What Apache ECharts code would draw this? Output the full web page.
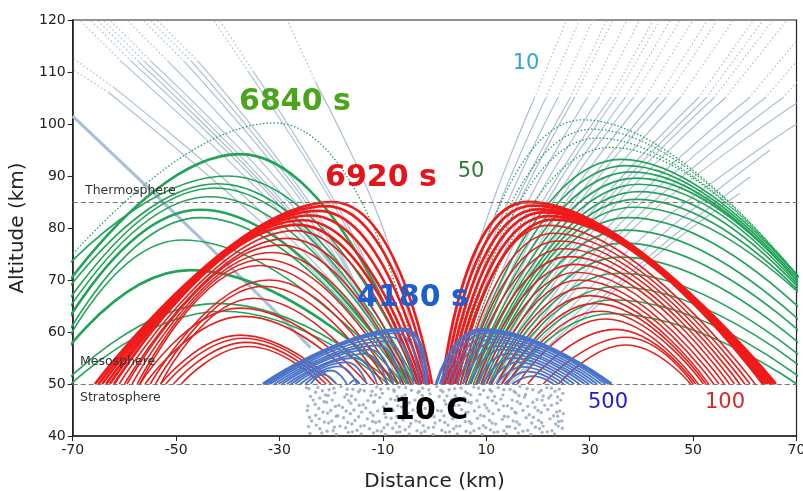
<!DOCTYPE html>
<html><head><meta charset="utf-8">
<script src="https://cdn.jsdelivr.net/npm/echarts@6/dist/echarts.min.js"></script>
<style>html,body{margin:0;padding:0;background:#fff}#c{width:803px;height:491px}</style>
</head><body><div id="c"></div>
<script>
// ---------- data (km) ----------
const xTicks = [-70,-50,-30,-10,10,30,50,70];
const layerLevels = [85, 50];

// ray paths: flat lists of x,y pairs. gray: base, mid, dotted-start, end
const grayLeft = [
 [-3,50, -27,80, -60.6,112, -68.6,120],
 [-3.5,50, -26,80, -58.6,112, -66.6,120],
 [-4,50, -25.5,80, -57.3,112, -65.3,120],
 [-4.5,50, -25,80, -56.1,112, -64.1,120],
 [-5,50, -24,80, -54.8,112, -62.8,120],
 [-5.5,50, -23,80, -51.5,112, -59.5,120],
 [-6,50, -22,80, -48.4,112, -56.4,120],
 [-6.5,50, -21.5,80, -47,112, -55,120],
 [-7,50, -21,80, -45.7,112, -53.7,120],
 [-3,50, -17,80, -36,110, -42.8,120],
 [-3.5,50, -16.5,80, -35,110, -41.6,120],
 [-2,50, -10,80, -23,108, -28.5,120],
 [-2.5,50, -28,78, -62,107, -70,112.7],
 [-3,50, -29,77, -63,106, -70,110.5]
];
const grayLeftThick = [[-24,57, -39,72, -70,101.5]];
const grayRight = [
 [1.5,50, 9.5,80, 19.3,105, 25.5,120],
 [2,50, 10.8,80, 21.5,105, 28,120],
 [2.5,50, 12.1,80, 23.8,105, 30.6,120],
 [3,50, 13.4,80, 26.2,105, 33.3,120],
 [3.5,50, 14.1,80, 27,105, 34.5,120],
 [4,50, 15.5,80, 29.5,105, 37.2,120],
 [4.5,50, 16.8,80, 31.8,105, 39.7,120],
 [5,50, 18,80, 34,105, 42.3,120],
 [5.5,50, 18.8,80, 35,105, 43.6,120],
 [6,50, 19.9,80, 36.8,105, 45.6,120],
 [6.5,50, 20.9,80, 38.4,105, 47.5,120],
 [7,50, 22.1,80, 40.6,105, 50,120],
 [7.5,50, 23.5,80, 43.1,105, 52.8,120],
 [8,50, 24.5,80, 44.7,105, 54.7,120],
 [8.5,50, 26.1,80, 47.5,105, 57.8,120],
 [9,50, 27.9,80, 51,105, 61.7,120],
 [9.5,50, 28.9,80, 52.5,105, 63.6,120],
 [10,50, 29.8,80, 54,105, 65.5,120],
 [10.5,50, 31.1,80, 56.2,105, 68.2,120],
 [11,50, 33.4,80, 60.8,105, 70,116],
 [11.5,50, 35.1,80, 63.9,105, 70,112],
 [12,50, 36.9,80, 67.3,105, 70,108],
 [12.5,50, 38.5,80, 70,104],
 [13,50, 40,78, 70,100],
 [13.5,50, 42,77, 64.9,95],
 [14,50, 42,75, 61,89.8],
 [14.5,50, 42,74, 59,86.7]
];
// arcs: start, apex, landing
const greenLeftDotted = [[-2.5,50, -31,100.2, -90,50]];
const greenLeft = [
 [-3,50, -40,90, -90,50],
 [-3,50, -37.6,94.2, -84,50],
 [-3.5,50, -41.9,88.5, -83.2,50],
 [-4,50, -42.5,87.7, -80.7,50],
 [-4.5,50, -43.5,86, -79.3,50],
 [-5,50, -45.3,83.5, -77.8,50],
 [-5.5,50, -45.3,82, -76.2,50],
 [-6,50, -48.8,77.7, -75.3,50],
 [-7,50, -47.3,71.9, -76,50],
 [-8,50, -42,65.5, -71.8,50],
 [-9,50, -41,64, -70.3,50]
];
const greenRightDotted = [
 [3,50, 28.7,100.8, 86,50],
 [3.5,50, 30.5,99, 86,50],
 [4,50, 31.5,97.3, 86.5,50],
 [4.5,50, 34,95.5, 86,50]
];
const greenRight = [
 [5,50, 36,93.2, 86,50],
 [5.5,50, 37,92, 85.5,50],
 [6,50, 38,90.8, 85,50],
 [6.5,50, 39,89.6, 85.3,50],
 [7,50, 39.5,88.4, 85,50],
 [7.5,50, 39.5,87, 85.4,50],
 [8,50, 39,85.5, 86,50],
 [8.5,50, 38.5,84, 87,50],
 [9,50, 37.5,82, 84.5,50],
 [9.5,50, 37,79.6, 82.5,50],
 [10,50, 36.5,77.1, 81,50],
 [10.5,50, 36,74.4, 79,50],
 [11,50, 35.5,71.3, 77,50],
 [12,50, 35,68.7, 75,50],
 [13,50, 34.5,66.2, 72.3,50],
 [14,50, 34,63.5, 70,50]
];
const redLeftBand = [
 [-0.5,50, -19.8,85, -65.7,50],
 [-1,50, -21,84.2, -65,50],
 [-1.5,50, -22.5,83.3, -64.3,50],
 [-2,50, -24,82.4, -63.5,50],
 [-2.5,50, -25.5,81.5, -62.8,50],
 [-3,50, -26.5,80.6, -62,50]
];
const redLeft = [
 [-3.5,50, -27,79.5, -61,50],
 [-4.5,50, -28.5,78, -60,50],
 [-5,50, -30,76.7, -59.5,50],
 [-6,50, -31.5,75.3, -58.5,50],
 [-7,50, -33,74, -57.5,50],
 [-8,50, -34,72.8, -57,50],
 [-9,50, -32,70, -55,50],
 [-10,50, -33,68.8, -54,50],
 [-11.5,50, -35,66.5, -53,50],
 [-13,50, -37.6,64.6, -57,50],
 [-14.5,50, -37,63, -56,50],
 [-19,50, -37.6,59.4, -53,50],
 [-20,50, -37,58.8, -52,50],
 [-21,50, -36.5,58, -50.5,50],
 [-22,50, -36,57.2, -49,50]
];
const redRightBand = [
 [1.5,50, 18,85, 66,50],
 [2,50, 19,84.3, 65.5,50],
 [2.5,50, 20,83.6, 65,50],
 [3,50, 21,83, 64.5,50],
 [3.5,50, 22,82.3, 64,50],
 [4,50, 23,81.6, 63.5,50]
];
const redRight = [
 [4.5,50, 22,80.5, 62,50],
 [5,50, 23,79, 61,50],
 [5.5,50, 24,77.5, 60,50],
 [6,50, 25,76, 59,50],
 [7,50, 26,74.5, 58,50],
 [8,50, 27,73, 57,50],
 [9,50, 27.5,71.5, 56,50],
 [10,50, 28,70, 55,50],
 [11,50, 29,68.5, 54,50],
 [12,50, 30,67, 53,50],
 [13,50, 31,65.5, 52.5,50],
 [14,50, 32,64, 52,50],
 [16,50, 33,62.5, 51,50],
 [18,50, 35,60.5, 50.5,50],
 [21,50, 37,59, 50,50],
 [24,50, 37,57.5, 49.5,50]
];
const blueLeft = [
 [-1.5,50, -6,60.6, -33.2,50],
 [-2,50, -6.5,60.3, -32.8,50],
 [-3,50, -7.5,59.8, -32.3,50],
 [-4.1,50, -8.5,59, -31.8,50],
 [-5.3,50, -9.5,58.2, -31,50],
 [-6.6,50, -11,57.4, -30.2,50],
 [-8,50, -12.5,56.6, -29.5,50],
 [-9.2,50, -13.5,55.8, -28.6,50],
 [-11.1,50, -15.5,55, -27.8,50],
 [-13.1,50, -17,54.2, -27,50],
 [-15,50, -18.5,53.4, -26,50],
 [-17,50, -20,52.6, -25,50],
 [-19,50, -21.5,51.8, -24,50],
 [-14.5,50, -15.3,50.8, -16.5,50]
];
const blueRight = [
 [0.3,50, 9,60.5, 34.2,50],
 [1,50, 9.5,60.2, 33.6,50],
 [1.5,50, 10,59.8, 33,50],
 [2.4,50, 10.5,59.2, 32.2,50],
 [3.3,50, 11,58.6, 31.4,50],
 [4.3,50, 11.5,58, 30.6,50],
 [5.5,50, 12,57.3, 29.8,50],
 [6.8,50, 13,56.6, 29,50],
 [8.2,50, 14,55.8, 28,50],
 [9.3,50, 15,55, 27,50],
 [10.6,50, 16,54.2, 26,50],
 [12,50, 17,53.3, 25,50],
 [13.5,50, 18,52.4, 24,50],
 [15,50, 19,51.5, 23,50]
];
const dots = [
 -22.6,49.3, -20.4,48.9, -18.1,49.5, -15.8,49.0, -13.6,48.7, -11.2,49.4, -9.0,49.1, -6.9,49.4, -4.5,48.8, -2.3,49.2, 0.4,49.5, 2.8,48.9, 5.1,49.2, 7.6,49.4, 9.5,48.8, 12.3,49.3, 14.6,49.0, 16.5,49.5, 19.0,48.9, 21.7,49.3, 24.1,49.0,
 -23.0,48.4, -21.1,47.9, -19.3,48.3, -17.0,48.0, -14.7,48.5, -12.3,47.8, -10.1,48.2, -7.8,48.6, -5.7,47.9, -3.2,48.3, -0.9,48.1, 1.6,48.5, 4.0,47.8, 6.4,48.2, 8.8,48.0, 11.0,48.6, 13.2,47.9, 15.7,48.3, 17.6,48.0, 20.2,48.4, 22.5,47.8, 24.8,48.2,
 -22.2,47.3, -19.8,46.9, -17.4,47.5, -15.3,47.0, -12.9,46.8, -10.6,47.4, -8.5,47.1, -6.3,47.5, -3.8,46.9, -1.6,47.2, 0.9,47.6, 3.3,47.0, 5.7,47.3, 8.2,46.8, 10.3,47.4, 12.8,47.1, 15.0,46.9, 17.4,47.5, 19.8,47.0, 22.1,47.3, 24.4,46.9,
 -23.1,46.1, -20.9,46.5, -18.5,45.9, -16.2,46.3, -13.8,46.0, -11.6,46.6, -9.3,46.2, -7.1,45.8, -4.9,46.4, -2.5,46.0, -0.3,46.5, 2.2,46.1, 4.7,45.9, 7.1,46.4, 9.7,46.0, 11.9,46.3, 14.1,45.8, 16.6,46.2, 19.0,46.5, 21.3,45.9, 23.7,46.3,
 -22.4,45.3, -20.1,44.9, -17.8,45.5, -15.6,45.0, -13.3,45.4, -11.0,44.8, -8.8,45.2, -6.4,45.6, -4.2,45.0, -1.8,45.3, 0.6,44.9, 2.9,45.5, 5.2,45.1, 7.7,44.8, 10.1,45.4, 12.4,45.0, 14.9,45.3, 17.1,44.9, 19.4,45.5, 21.9,45.1, 24.2,44.8,
 -23.0,44.0, -20.7,44.4, -18.7,43.9, -16.3,44.3, -14.1,44.6, -11.9,44.0, -9.7,44.3, -7.3,43.8, -5.1,44.4, -2.8,44.1, -0.5,44.5, 1.8,43.9, 4.1,44.2, 6.5,44.6, 8.9,44.0, 11.3,44.3, 13.5,43.8, 15.8,44.4, 18.3,44.1, 20.6,44.5, 23.0,43.9, 24.9,44.3,
 -22.3,43.3, -19.9,42.9, -17.6,43.5, -15.4,43.0, -13.0,43.3, -10.7,42.8, -8.4,43.4, -6.1,43.1, -3.6,42.9, -1.4,43.5, 1.0,43.0, 3.5,43.3, 5.9,42.8, 8.3,43.4, 10.6,43.0, 13.1,43.2, 15.2,42.9, 17.7,43.5, 20.1,43.0, 22.3,43.3, 24.6,42.9,
 -22.9,42.1, -20.5,42.5, -18.3,41.9, -16.0,42.3, -13.6,42.0, -11.4,42.6, -9.1,42.2, -6.8,41.8, -4.6,42.4, -2.2,42.0, 0.1,42.5, 2.6,42.1, 4.9,41.9, 7.1,42.4, 9.4,42.0, 11.8,42.3, 14.0,41.8, 16.4,42.2, 18.8,42.5, 21.0,41.9, 23.4,42.3,
 -22.2,41.4, -19.6,41.0, -17.2,41.6, -15.0,41.1, -12.6,41.4, -10.3,40.9, -8.1,41.5, -5.7,41.2, -3.4,41.0, -1.2,41.6, 1.4,41.1, 3.7,41.4, 6.1,40.9, 8.6,41.5, 10.8,41.2, 13.4,41.0, 15.6,41.5, 18.0,41.1, 20.3,41.4, 22.7,41.0, 24.7,41.5,
 -21.8,40.6, -19.0,40.3, -16.7,40.7, -14.2,40.4, -11.8,40.6, -9.5,40.3, -7.3,40.7, -4.9,40.4, -2.6,40.6, -0.3,40.3, 2.1,40.7, 4.4,40.4, 6.9,40.6, 9.2,40.3, 11.5,40.7, 13.9,40.4, 16.2,40.6, 18.6,40.3, 20.8,40.7, 23.2,40.4,
 -21.7,48.7, -16.9,49.0, -12.1,48.6, -7.9,48.9, -3.0,48.6, 1.2,48.8, 6.0,48.5, 10.7,48.9, 15.4,48.6, 20.6,48.8, 23.3,48.6,
 -21.4,46.6, -16.6,46.8, -11.8,46.5, -7.6,46.9, -2.9,46.6, 1.9,46.8, 6.6,46.5, 11.2,46.8, 16.0,46.6, 20.8,46.9,
 -21.6,44.6, -17.1,44.8, -12.4,44.5, -8.0,44.9, -3.3,44.6, 1.3,44.8, 6.0,44.5, 10.5,44.8, 15.5,44.6, 20.0,44.9, 23.6,44.6,
 -21.3,42.7, -16.8,42.6, -12.0,42.8, -7.5,42.5, -2.9,42.7, 2.0,42.6, 6.7,42.8, 11.1,42.5, 15.9,42.7, 20.7,42.6, 24.0,42.8,
 -20.8,40.9, -15.9,40.8, -11.1,41.0, -6.7,40.8, -1.9,40.9, 2.9,40.8, 7.6,41.0, 12.2,40.8, 17.1,40.9, 21.8,40.8,
 -24.3,49.1, -19.5,49.2, -14.4,48.9, -10.4,49.0, -5.6,49.3, -1.1,48.9, 3.9,49.1, 8.5,49.2, 13.4,48.9, 17.9,49.1, 22.6,49.2,
 -24.0,47.6, -20.6,47.8, -16.1,47.7, -11.4,47.9, -7.2,47.6, -2.4,47.8, 2.4,47.7, 7.0,47.9, 11.6,47.6, 16.3,47.8, 21.0,47.7, 23.8,47.5,
 -24.5,45.8, -19.2,45.7, -14.6,45.9, -9.9,45.6, -5.4,45.8, -0.8,45.7, 3.8,45.9, 8.6,45.6, 13.3,45.8, 18.0,45.7, 22.6,45.9,
 -24.2,43.6, -19.0,43.8, -14.7,43.7, -9.4,43.6, -4.7,43.8, -0.1,43.7, 4.6,43.6, 9.6,43.8, 14.2,43.7, 19.1,43.6, 23.8,43.8,
 -24.4,41.8, -19.4,41.7, -14.3,41.9, -9.8,41.6, -4.9,41.8, -0.2,41.7, 4.2,41.9, 9.9,41.6, 14.5,41.8, 19.5,41.7, 23.9,41.9,
 -24.1,40.5, -23.5,46.9, -24.6,44.9, -23.8,42.9, -24.8,49.3
];

// ---------- styles ----------
const FONT = 'DejaVu Sans';
const C = {gray:'#abbfd3', green:'#22a35a', red:'#e3221f', redBand:'#f01a1a', blue:'#4a74c9', dots:'#8ca4bf'};
const greenLeftW = [1.6,2.6,1.6,1.6,1.6,2.6,1.6,1.6,2.6,1.6,1.6];
const blueW = [3,2,1.8,1.8,1.8,1.8,1.8,1.8,1.8,1.8,1.8,1.8,1.8,1.8];

function pairs(f){const o=[];for(let i=0;i<f.length;i+=2)o.push([f[i],f[i+1]]);return o;}
const series = [];
function line(data, color, width, type, z, smooth){
  series.push({type:'line', data:data, smooth:smooth, symbol:'none', silent:true, z:z, clip:true,
    lineStyle:{color:color, width:width, type:type}, emphasis:{disabled:true}});
}
function addArcs(list, color, w, type, z){
  list.forEach((r,i)=>line(pairs(r), color, Array.isArray(w)?w[i]:w, type, z, 0.5));
}
function addGray(list, w, z){
  list.forEach(r=>{
    const p = pairs(r);
    line(p.slice(0,3), C.gray, w, 'solid', z, 0.4);
    if (p.length > 3) line(p.slice(2), C.gray, w, [1.5,2.5], z, false);
  });
}
addGray(grayLeft, 1.2, 1);
addGray(grayRight, 1.2, 1);
addArcs(grayLeftThick, C.gray, 3, 'solid', 1);
addArcs(greenLeftDotted, C.green, 1.3, [1.5,2], 2);
addArcs(greenLeft, C.green, greenLeftW, 'solid', 2);
addArcs(greenRightDotted, C.green, 1.3, [1.5,2], 2);
addArcs(greenRight, C.green, 1.6, 'solid', 2);
addArcs(redLeft, C.red, 1.6, 'solid', 3);
addArcs(redRight, C.red, 1.6, 'solid', 3);
addArcs(redLeftBand, C.redBand, 2.6, 'solid', 3);
addArcs(redRightBand, C.redBand, 2.8, 'solid', 3);
addArcs(blueLeft, C.blue, blueW, 'solid', 4);
addArcs(blueRight, C.blue, blueW, 'solid', 4);
series.push({type:'scatter', data:pairs(dots), symbol:'circle', symbolSize:3.4, silent:true, z:5,
  itemStyle:{color:C.dots}});
series.push({type:'line', data:[], silent:true, z:6,
  markLine:{silent:true, symbol:'none', label:{show:false}, animation:false,
    lineStyle:{type:[5,3], color:'#777', width:1},
    data: layerLevels.map(v=>({yAxis:v}))}});

function txt(x,y,text,font,fill,align){
  return {type:'text', x:x, y:y, z:100, silent:true,
    style:{text:text, font:font, fill:fill, align:align||'center', verticalAlign:'middle'}};
}
const option = {
  animation:false,
  backgroundColor:'#fff',
  grid:{left:72.7, right:6.5, top:20, bottom:55, show:true, borderColor:'#222', borderWidth:1.2,
    containLabel:false, outerBoundsMode:'none'},
  xAxis:{type:'value', min:-70, max:70,
    name:'Distance (km)', nameLocation:'middle', nameGap:36,
    nameTextStyle:{fontFamily:FONT, fontSize:20, color:'#222'},
    axisLine:{show:true, onZero:false, lineStyle:{color:'#222', width:1.5}},
    axisTick:{show:true, length:5, customValues:xTicks, lineStyle:{color:'#222'}},
    axisLabel:{customValues:xTicks, fontFamily:FONT, fontSize:14, color:'#222', margin:7},
    splitLine:{show:false}},
  yAxis:{type:'value', min:40, max:120, interval:10,
    name:'Altitude (km)', nameLocation:'middle', nameGap:29,
    nameTextStyle:{fontFamily:FONT, fontSize:20, color:'#222'},
    axisLine:{show:true, onZero:false, lineStyle:{color:'#222', width:1.5}},
    axisTick:{show:true, length:5, lineStyle:{color:'#222'}},
    axisLabel:{fontFamily:FONT, fontSize:14, color:'#222', margin:7},
    splitLine:{show:false}},
  series:series,
  graphic:[
    txt(295,102,'6840 s','bold 30px '+FONT,'#4aa51a'),
    txt(381,178,'6920 s','bold 30px '+FONT,'#e5141b'),
    txt(413,298,'4180 s','bold 30px '+FONT,'#1d5fcf'),
    txt(425,411,'-10 C','bold 30px '+FONT,'#000'),
    txt(526,64,'10','21px '+FONT,'#37a2d6'),
    txt(471,172,'50','21px '+FONT,'#2e7d2e'),
    txt(608,403,'500','21px '+FONT,'#1c1cd0'),
    txt(725,403,'100','21px '+FONT,'#d62828'),
    txt(85,191,'Thermosphere','12.5px '+FONT,'#333','left'),
    txt(80,362,'Mesosphere','12.5px '+FONT,'#333','left'),
    txt(80,398,'Stratosphere','12.5px '+FONT,'#333','left')
  ]
};
const chart = echarts.init(document.getElementById('c'));
chart.setOption(option);
</script></body></html>
